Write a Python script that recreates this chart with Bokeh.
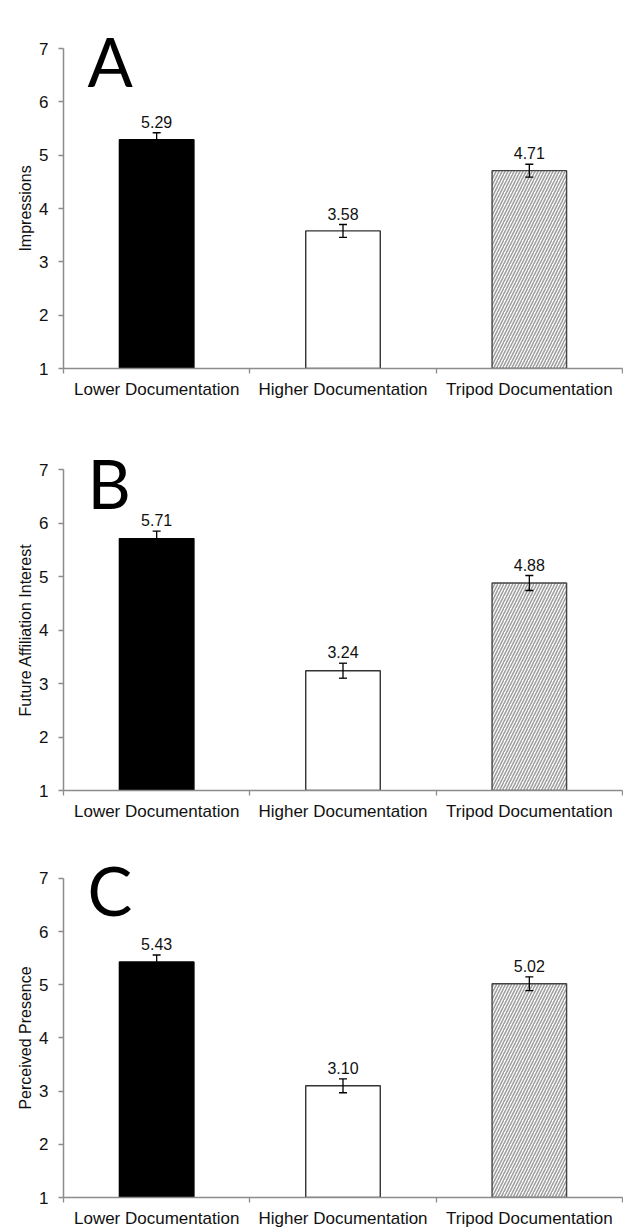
from bokeh.plotting import figure
from bokeh.layouts import column
from bokeh.models import Range1d, FixedTicker, Label, Whisker, ColumnDataSource, TeeHead
from bokeh.core.properties import value
from bokeh.embed import file_html
from bokeh.resources import INLINE

# ---------------- data ----------------
categories = ["Lower Documentation", "Higher Documentation", "Tripod Documentation"]
panel_letters = ["A", "B", "C"]
y_titles = ["Impressions", "Future Affiliation Interest", "Perceived Presence"]

impressions = [5.29, 3.58, 4.71]
impressions_se = [0.13, 0.12, 0.12]
affiliation = [5.71, 3.24, 4.88]
affiliation_se = [0.14, 0.14, 0.14]
presence = [5.43, 3.10, 5.02]
presence_se = [0.13, 0.13, 0.13]

y_ticks = [1, 2, 3, 4, 5, 6, 7]

# ---------------- styles ----------------
bar_fill = ["black", "white", "white"]
bar_line = ["black", "#333333", "#444444"]
bar_hatch = [" ", " ", "/"]

FONT = "Liberation Sans"
AXIS_COLOR = "#8c8c8c"
HEADROOM = 0.75          # space above 7 for the panel letter
PAD = "\u00a0" * 9       # keeps the axis title centred on the 1..7 span

# (values, errors, fig height, top border, bottom border)
panels = [
    (impressions, impressions_se, 410, 8, 42),
    (affiliation, affiliation_se, 422, 19, 42),
    (presence, presence_se, 398, 6, 30),
]

figs = []
for k, (vals, ses, h, top_b, bot_b) in enumerate(panels):
    xs = [i + 0.5 for i in range(len(categories))]
    src = ColumnDataSource(dict(
        x=xs, top=vals, lower=[v - s for v, s in zip(vals, ses)],
        upper=[v + s for v, s in zip(vals, ses)],
        label=["%.2f" % v for v in vals],
        fill=bar_fill, line=bar_line, hatch=bar_hatch,
    ))
    p = figure(width=623, height=h, output_backend="svg", toolbar_location=None,
               x_range=Range1d(0, len(categories)),
               y_range=Range1d(y_ticks[0], y_ticks[-1] + HEADROOM),
               min_border_left=63, min_border_right=1, min_border_top=top_b,
               min_border_bottom=bot_b)
    p.outline_line_color = None
    p.xgrid.visible = False
    p.ygrid.visible = False
    p.background_fill_color = "white"

    p.vbar(x="x", top="top", bottom=y_ticks[0], width=0.4, source=src,
           fill_color="fill", line_color="line", line_width=1.4,
           hatch_pattern="hatch", hatch_color="#a0a0a0", hatch_scale=6,
           hatch_weight=1.6)

    w = Whisker(base="x", lower="lower", upper="upper", source=src,
                line_color="black", line_width=1.3,
                upper_head=TeeHead(size=8, line_color="black", line_width=1.3),
                lower_head=TeeHead(size=8, line_color="black", line_width=1.3))
    w.level = "overlay"
    p.add_layout(w)

    p.text(x="x", y="upper", text="label", source=src, y_offset=-11,
           text_align="center", text_baseline="alphabetic",
           text_font=value(FONT), text_font_size="16px", text_color="#111111")

    # axes
    p.yaxis.ticker = FixedTicker(ticks=y_ticks)
    p.yaxis.bounds = (y_ticks[0], y_ticks[-1])
    p.yaxis.major_tick_in = 0
    p.yaxis.major_tick_out = 5
    p.yaxis.major_label_standoff = 10
    p.yaxis.axis_label = y_titles[k] + PAD
    p.yaxis.axis_label_standoff = 2
    p.yaxis.axis_label_text_font = FONT
    p.yaxis.axis_label_text_font_style = "normal"
    p.yaxis.axis_label_text_font_size = "16px"
    p.yaxis.axis_label_text_color = "#111111"
    p.yaxis.major_label_text_font = FONT
    p.yaxis.major_label_text_font_size = "17px"
    p.yaxis.major_label_text_color = "#111111"

    p.xaxis.ticker = FixedTicker(ticks=xs, minor_ticks=list(range(len(categories) + 1)))
    p.xaxis.major_label_overrides = {x: c for x, c in zip(xs, categories)}
    p.xaxis.major_tick_in = 0
    p.xaxis.major_tick_out = 0
    p.xaxis.minor_tick_in = 0
    p.xaxis.minor_tick_out = 5
    p.xaxis.major_label_standoff = 6
    p.xaxis.major_label_text_font = FONT
    p.xaxis.major_label_text_font_size = "17px"
    p.xaxis.major_label_text_color = "#111111"

    for ax in (p.xaxis, p.yaxis):
        ax.axis_line_color = AXIS_COLOR
        ax.axis_line_width = 1.5
        ax.major_tick_line_color = AXIS_COLOR
        ax.major_tick_line_width = 1.3
        ax.minor_tick_line_color = AXIS_COLOR
        ax.minor_tick_line_width = 1.3
    p.yaxis.minor_tick_line_color = None

    p.add_layout(Label(x=24, y=308, x_units="screen", y_units="screen",
                       text=panel_letters[k], text_font="Lato",
                       text_font_size="67px", text_baseline="alphabetic",
                       text_color="black"))
    figs.append(p)

layout = column(*figs, spacing=0)
open("out.html", "w").write(file_html(layout, INLINE))
